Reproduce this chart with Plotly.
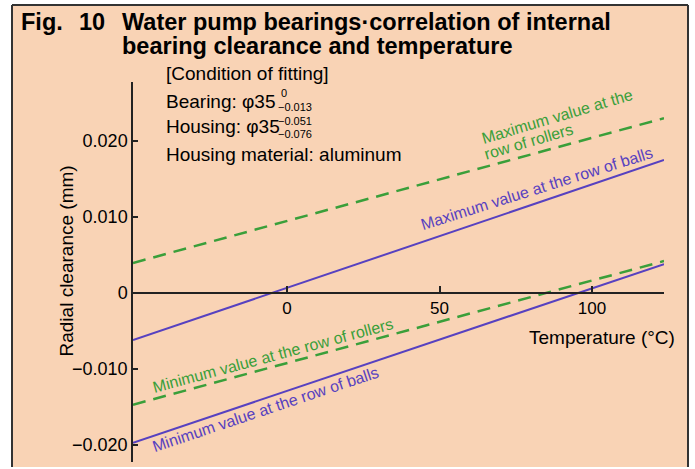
import plotly.graph_objects as go

# ---- data ----
temp = [-50.5, 123.6]
max_rollers = [0.00395, 0.0230]
max_balls = [-0.0062, 0.0175]
min_rollers = [-0.0147, 0.0042]
min_balls = [-0.0197, 0.0038]

x_ticks = [0, 50, 100]
x_tick_labels = ["0", "50", "100"]
y_ticks = [0.02, 0.01, 0, -0.01, -0.02]
y_tick_labels = ["0.020", "0.010", "0", "\u22120.010", "\u22120.020"]

X_RANGE = [-50.5, 123.6]
Y_RANGE = [-0.02224, 0.02776]

GREEN = "#3a9f3a"
BLUE = "#5741c0"
PEACH = "#f9d3b5"
FONT = "Liberation Sans"

W, H = 695, 469
L, R, T, B = 133, 31, 82, 7
pw, ph = W - L - R, H - T - B

def px(x):
    return (x - L) / pw

def py(y):
    return (H - B - y) / ph

fig = go.Figure()
fig.add_trace(go.Scatter(x=temp, y=max_rollers, mode="lines",
                         line=dict(color=GREEN, width=2.5, dash="13px,8px"), hoverinfo="skip"))
fig.add_trace(go.Scatter(x=temp, y=max_balls, mode="lines",
                         line=dict(color=BLUE, width=2), hoverinfo="skip"))
fig.add_trace(go.Scatter(x=temp, y=min_rollers, mode="lines",
                         line=dict(color=GREEN, width=2.5, dash="13px,8px"), hoverinfo="skip"))
fig.add_trace(go.Scatter(x=temp, y=min_balls, mode="lines",
                         line=dict(color=BLUE, width=2), hoverinfo="skip"))

zero_pos = (0 - Y_RANGE[0]) / (Y_RANGE[1] - Y_RANGE[0])

shapes = [
    dict(type="rect", xref="paper", yref="paper", x0=px(12), x1=px(688), y0=py(467), y1=py(5),
         fillcolor=PEACH, line=dict(width=0), layer="below"),
    dict(type="line", xref="paper", yref="paper", x0=px(12), x1=px(688), y0=py(5), y1=py(5),
         line=dict(color="#333", width=2)),
    dict(type="line", xref="paper", yref="paper", x0=px(12), x1=px(12), y0=py(467), y1=py(5),
         line=dict(color="#333", width=2)),
    dict(type="line", xref="paper", yref="paper", x0=px(688), x1=px(688), y0=py(467), y1=py(5),
         line=dict(color="#333", width=2)),
]

ann = []
def txt(x, y, s, size=15, color="black", xanchor="left", yanchor="middle", angle=0, bold=False, xref="paper", yref="paper"):
    if bold:
        s = "<b>" + s + "</b>"
    ann.append(dict(x=x, y=y, xref=xref, yref=yref, text=s, showarrow=False, xanchor=xanchor,
                    yanchor=yanchor, textangle=angle, align="left", borderpad=0,
                    font=dict(family=FONT, size=size, color=color)))

# title
txt(px(20), py(22), "Fig.", size=23.5, bold=True)
txt(px(78), py(22), "10", size=23.5, bold=True)
txt(px(121), py(22), "Water pump bearings\u00b7correlation of internal", size=23.5, bold=True)
txt(px(121), py(46), "bearing clearance and temperature", size=23.5, bold=True)

# condition text
txt(px(165), py(74), "[Condition of fitting]", size=19)
txt(px(165), py(101), "Bearing: \u03c635", size=19)
txt(px(280), py(100), "0", size=11, yanchor="bottom")
txt(px(277), py(99.5), "\u22120.013", size=11, yanchor="top")
txt(px(165), py(126), "Housing: \u03c635", size=19)
txt(px(277), py(127.5), "\u22120.051", size=11, yanchor="bottom")
txt(px(277), py(127), "\u22120.076", size=11, yanchor="top")
txt(px(165), py(154), "Housing material: aluminum", size=19)

# axis titles
ann.append(dict(x=px(53), y=py(261), xref="paper", yref="paper", text="Radial clearance (mm)",
                showarrow=False, textangle=-90, font=dict(family=FONT, size=19, color="black")))
txt(px(676), py(337), "Temperature (\u00b0C)", size=19, xanchor="right")

# line labels
def dtx(p):
    return (p - 287) / 3.05
def dty(p):
    return (293 - p) / 7600

txt(dtx(537), dty(189), "Maximum value at the row of balls", size=16, color=BLUE, xanchor="center", angle=-17.5, xref="x", yref="y")
txt(dtx(557), dty(117), "Maximum value at the", size=16, color=GREEN, xanchor="center", angle=-16.5, xref="x", yref="y")
txt(dtx(529), dty(142), "row of rollers", size=16, color=GREEN, xanchor="center", angle=-16.5, xref="x", yref="y")
txt(dtx(273), dty(356), "Minimum value at the row of rollers", size=16, color=GREEN, xanchor="center", angle=-15, xref="x", yref="y")
txt(dtx(265), dty(410), "Minimum value at the row of balls", size=16, color=BLUE, xanchor="center", angle=-18.5, xref="x", yref="y")

fig.update_layout(
    width=W, height=H,
    margin=dict(l=L, r=R, t=T, b=B),
    paper_bgcolor="white",
    plot_bgcolor="rgba(0,0,0,0)",
    showlegend=False,
    shapes=shapes,
    annotations=ann,
    xaxis=dict(range=X_RANGE, anchor="free", position=zero_pos, showline=True, linecolor="#222",
               linewidth=1.5, showgrid=False, zeroline=False, ticks="inside", ticklen=6,
               tickcolor="#222", tickwidth=1.5, tickvals=x_ticks, ticktext=x_tick_labels,
               tickfont=dict(family=FONT, size=17, color="black")),
    yaxis=dict(range=Y_RANGE, showline=True, linecolor="#222", linewidth=1.5, showgrid=False,
               zeroline=False, ticks="inside", ticklen=5, tickcolor="#222", tickwidth=1.5,
               tickvals=y_ticks, ticktext=y_tick_labels,
               tickfont=dict(family=FONT, size=18, color="black")),
)

fig.write_html("out.html", config={"displayModeBar": False},
               post_script="document.body.style.margin='0';document.body.style.overflow='hidden';")
